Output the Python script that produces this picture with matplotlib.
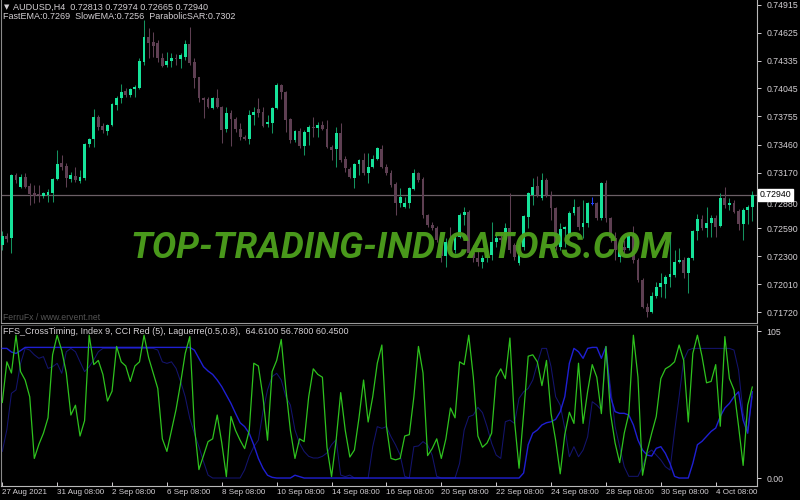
import matplotlib
matplotlib.use("Agg")
import matplotlib.pyplot as plt
import numpy as np

plt.rcParams['font.family'] = ['Liberation Sans', 'DejaVu Sans']

# ---------------- data ----------------
opens = [0.7242,0.7251,0.7249,0.7315,0.7302,0.7312,0.7303,0.7296,0.7295,0.7293,
         0.7294,0.7296,0.7310,0.7327,0.7324,0.7310,0.7313,0.7308,0.7311,0.7347,
         0.7352,0.7375,0.7365,0.7360,0.7366,0.7387,0.7395,0.7402,0.7398,0.7404,
         0.7405,0.7432,0.7458,0.7453,0.7452,0.7436,0.7429,0.7433,0.7436,0.7435,
         0.7437,0.7451,0.7432,0.7416,0.7395,0.7393,0.7384,0.7395,0.7385,0.7362,
         0.7379,0.7373,0.7362,0.7354,0.7352,0.7377,0.7383,0.7380,0.7368,0.7369,
         0.7384,0.7408,0.7401,0.7373,0.7351,0.7360,0.7345,0.7359,0.7364,0.7363,
         0.7366,0.7362,0.7344,0.7342,0.7358,0.7331,0.7321,0.7311,0.7326,0.7330,
         0.7317,0.7323,0.7331,0.7342,0.7323,0.7317,0.7305,0.7285,0.7281,0.7285,
         0.7300,0.7317,0.7310,0.7273,0.7263,0.7259,0.7247,0.7230,0.7245,0.7237,
         0.7250,0.7273,0.7276,0.7233,0.7228,0.7224,0.7228,0.7231,0.7245,0.7249,
         0.7247,0.7259,0.7242,0.7223,0.7240,0.7271,0.7294,0.7303,0.7291,0.7309,
         0.7294,0.7280,0.7240,0.7258,0.7251,0.7275,0.7281,0.7260,0.7265,0.7284,
         0.7285,0.7270,0.7306,0.7270,0.7249,0.7229,0.7240,0.7239,0.7252,0.7226,
         0.7205,0.7177,0.7172,0.7189,0.7198,0.7201,0.7208,0.7211,0.7224,0.7226,
         0.7213,0.7228,0.7256,0.7269,0.7259,0.7265,0.7270,0.7261,0.7291,0.7283,
         0.7285,0.7277,0.7264,0.7278,0.72813]
highs = [0.7256,0.7254,0.7316,0.7317,0.7316,0.7317,0.7306,0.7304,0.7304,0.7297,
         0.7300,0.7311,0.7340,0.7335,0.7327,0.7318,0.7323,0.7320,0.7348,0.7353,
         0.7383,0.7377,0.7369,0.7368,0.7389,0.7397,0.7409,0.7405,0.7405,0.7408,
         0.7436,0.7476,0.7467,0.7463,0.7455,0.7441,0.7442,0.7441,0.7440,0.7441,
         0.7455,0.7468,0.7436,0.7416,0.7396,0.7396,0.7396,0.7404,0.7386,0.7385,
         0.7382,0.7375,0.7369,0.7356,0.7382,0.7385,0.7395,0.7385,0.7377,0.7385,
         0.7410,0.7409,0.7402,0.7374,0.7361,0.7363,0.7361,0.7366,0.7375,0.7370,
         0.7371,0.7372,0.7346,0.7364,0.7369,0.7334,0.7323,0.7327,0.7331,0.7337,
         0.7337,0.7335,0.7344,0.7346,0.7326,0.7320,0.7307,0.7301,0.7292,0.7302,
         0.7321,0.7318,0.7312,0.7274,0.7266,0.7261,0.7249,0.7249,0.7260,0.7252,
         0.7275,0.7281,0.7278,0.7242,0.7237,0.7231,0.7237,0.7266,0.7255,0.7253,
         0.7265,0.7296,0.7244,0.7244,0.7273,0.7297,0.7311,0.7313,0.7317,0.7311,
         0.7298,0.7281,0.7265,0.7262,0.7277,0.7290,0.7282,0.7289,0.7286,0.7292,
         0.7286,0.7307,0.7309,0.7271,0.7255,0.7240,0.7247,0.7254,0.7262,0.7228,
         0.7207,0.7181,0.7193,0.7203,0.7213,0.7211,0.7255,0.7237,0.7239,0.7229,
         0.7229,0.7257,0.7274,0.7273,0.7281,0.7273,0.7273,0.7296,0.7302,0.7291,
         0.7289,0.7279,0.7280,0.7283,0.72974]
lows = [0.7237,0.7245,0.7233,0.7306,0.7301,0.7301,0.7283,0.7285,0.7286,0.7291,
        0.7286,0.7286,0.7309,0.7320,0.7302,0.7307,0.7307,0.7306,0.7309,0.7344,
        0.7344,0.7361,0.7358,0.7356,0.7365,0.7382,0.7389,0.7396,0.7396,0.7396,
        0.7404,0.7429,0.7436,0.7437,0.7432,0.7427,0.7427,0.7427,0.7429,0.7426,
        0.7434,0.7429,0.7405,0.7390,0.7374,0.7384,0.7383,0.7384,0.7348,0.7359,
        0.7345,0.7359,0.7351,0.7351,0.7347,0.7366,0.7375,0.7364,0.7364,0.7358,
        0.7383,0.7393,0.7359,0.7348,0.7349,0.7343,0.7335,0.7346,0.7354,0.7354,
        0.7361,0.7343,0.7330,0.7323,0.7328,0.7318,0.7311,0.7301,0.7315,0.7315,
        0.7306,0.7322,0.7330,0.7322,0.7315,0.7302,0.7273,0.7281,0.7280,0.7280,
        0.7299,0.7307,0.7270,0.7260,0.7257,0.7245,0.7224,0.7219,0.7238,0.7233,
        0.7249,0.7263,0.7231,0.7224,0.7220,0.7218,0.7224,0.7226,0.7240,0.7243,
        0.7245,0.7233,0.7226,0.7221,0.7237,0.7259,0.7283,0.7292,0.7289,0.7292,
        0.7268,0.7237,0.7237,0.7240,0.7249,0.7273,0.7257,0.7249,0.7260,0.7283,
        0.7268,0.7268,0.7266,0.7245,0.7226,0.7224,0.7233,0.7237,0.7223,0.7203,
        0.7176,0.7167,0.7171,0.7187,0.7188,0.7187,0.7198,0.7208,0.7223,0.7207,
        0.7192,0.7226,0.7247,0.7257,0.7250,0.7250,0.7250,0.7260,0.7280,0.7278,
        0.7275,0.7257,0.7247,0.7264,0.72665]
closes = [0.7251,0.7248,0.7315,0.7309,0.7312,0.7302,0.7295,0.7293,0.7294,0.7296,
          0.7297,0.7310,0.7326,0.7323,0.7311,0.7315,0.7309,0.7312,0.7347,0.7352,
          0.7375,0.7364,0.7361,0.7366,0.7388,0.7395,0.7401,0.7398,0.7404,0.7406,
          0.7433,0.7458,0.7452,0.7449,0.7436,0.7428,0.7433,0.7436,0.7435,0.7439,
          0.7451,0.7431,0.7415,0.7395,0.7392,0.7385,0.7395,0.7385,0.7361,0.7379,
          0.7373,0.7362,0.7354,0.7352,0.7377,0.7380,0.7379,0.7365,0.7370,0.7384,
          0.7408,0.7401,0.7372,0.7351,0.7360,0.7345,0.7359,0.7364,0.7363,0.7366,
          0.7362,0.7344,0.7340,0.7358,0.7330,0.7322,0.7312,0.7326,0.7330,0.7317,
          0.7323,0.7331,0.7343,0.7323,0.7317,0.7304,0.7285,0.7292,0.7285,0.7301,
          0.7317,0.7309,0.7273,0.7263,0.7259,0.7247,0.7230,0.7245,0.7240,0.7250,
          0.7273,0.7276,0.7233,0.7228,0.7224,0.7228,0.7231,0.7245,0.7249,0.7247,
          0.7259,0.7237,0.7229,0.7242,0.7272,0.7296,0.7302,0.7294,0.7309,0.7294,
          0.7280,0.7240,0.7258,0.7260,0.7275,0.7281,0.7260,0.7265,0.7285,0.7284,
          0.7270,0.7306,0.7270,0.7249,0.7237,0.7237,0.7237,0.7252,0.7226,0.7205,
          0.7177,0.7172,0.7189,0.7198,0.7202,0.7208,0.7212,0.7224,0.7226,0.7213,
          0.7228,0.7256,0.7269,0.7259,0.7265,0.7270,0.7260,0.7291,0.7283,0.7285,
          0.7276,0.7264,0.7278,0.7281,0.72940]

cci_line = [54,83,75,102,76,70,58,14,24,32,43,88,102,91,75,45,52,30,41,102,
            81,84,74,55,62,94,83,80,69,80,83,102,86,75,64,28,19,34,49,68,
            89,101,37,6,16,26,28,45,25,1,44,34,27,21,34,82,80,58,27,76,
            84,99,64,34,14,28,26,58,78,74,72,22,1,27,61,34,15,20,43,70,
            40,58,82,95,37,14,13,14,30,31,58,94,75,16,21,28,14,28,50,43,
            83,81,102,72,30,22,25,32,72,78,71,100,41,7,46,87,88,83,66,84,
            46,27,3,31,47,39,82,39,62,81,72,46,94,46,25,11,32,46,102,72,
            2,19,32,44,71,78,80,83,95,84,40,89,102,87,68,69,81,37,101,71,
            63,37,9,52,65]
laguerre_line = [92.6,92.6,90,89,91,93.3,93.3,93.3,93.3,93.3,
                 93.3,93.3,93.3,93.3,93.3,93.3,93.3,93.3,93.3,93.3,
                 93.3,93.3,93.3,93.3,93.3,93.3,93.3,93.3,93.3,93.3,
                 93.3,93.3,93.3,93.3,93.3,93.3,93.3,93.3,93.3,93.3,
                 93.3,93.3,91.4,85.5,79.5,76.4,74,70,65.2,59.3,
                 53.3,46.2,39.5,36.7,31.9,23.6,14,7,2,0.5,
                 0,0,0,0,2,1,0,0,0,0,
                 0,0,0,0,0,0,0,0,0,0,
                 0,0,0,0,0,0,0,0,0,0,
                 0,0,0,0,0,0,0,0,0,0,
                 0,0,0,0,0,0,0,0,0,0,
                 0,0,0,0,3.6,23.8,32,34.3,37.9,39.5,
                 40.2,41.9,47.4,58.1,81.9,92.6,90.2,85.5,92.6,93.3,
                 93.3,85.5,93.8,58.1,47.4,46.2,46.2,45,37.9,27.1,
                 20,16.4,15.7,21.2,22.4,17.6,10.5,1.2,0,0,
                 0,10.5,23.8,26.2,29.8,33.3,35.7,44,50,53.3,
                 58.1,61.6,41.4,32,61.6]
signal_line = [19,34.5,60.5,62.9,81.9,92.6,91.4,88,85.5,86.7,
               78.3,79.5,81.9,74.8,90.2,92.6,90.2,83,76,79.5,
               84.3,90.2,92.6,92.6,92.6,92.6,92.6,92.6,92.6,92.6,
               92.6,92.6,92.6,92.6,91.4,83,81.9,83,78.3,68.8,
               58.1,42.6,31.9,22.4,11.7,2.1,0,0,0,0,
               0,0,0,5.9,15.5,22.4,27.1,47.4,62.9,72.4,
               74.8,70,58.1,52.1,34.3,24.8,19,15.5,14.3,14.3,
               15.5,17.9,23.8,27.4,2.1,1,2.1,0,0,0,
               0,22.4,36.7,35.5,36.7,29.5,23.6,16.4,1.2,0,
               22.4,22.9,26,23.6,16.4,1.2,0,0,0,0,
               10.5,34.3,43.8,45,50.5,46.7,36.7,24.8,16.4,14,
               40.2,41.4,39,56.9,61.6,64,70,81.9,92.6,92.6,
               79.5,58.1,52.1,35.5,15.2,22.4,15.2,20,29.5,54.5,
               52.1,48.6,90.2,65.2,36.7,22.4,8.1,1.2,1.2,1.2,
               8.1,17.6,20,16.4,12.9,8.1,5.7,33.1,58.1,84.3,
               91.4,92.6,92.6,92.6,92.6,92.6,92.6,92.6,92.6,92.6,
               91.4,77.1,46.2,34.3,58.1]

date_labels = ["27 Aug 2021", "31 Aug 08:00", "2 Sep 08:00", "6 Sep 08:00", "8 Sep 08:00",
               "10 Sep 08:00", "14 Sep 08:00", "16 Sep 08:00", "20 Sep 08:00", "22 Sep 08:00",
               "24 Sep 08:00", "28 Sep 08:00", "30 Sep 08:00", "4 Oct 08:00"]
date_bar_index = [0, 12, 24, 36, 48, 60, 72, 84, 96, 108, 120, 132, 144, 156]
price_ticks = [0.74915, 0.74625, 0.74335, 0.74045, 0.73755, 0.73460,
               0.73170, 0.72880, 0.72590, 0.72300, 0.72010, 0.71720]
last_price = 0.72940

# ---------------- figure ----------------
W, H = 800, 500
fig = plt.figure(figsize=(8, 5), dpi=100, facecolor='black')

def px_rect(x0, y0, x1, y1):
    return [x0 / W, 1 - y1 / H, (x1 - x0) / W, (y1 - y0) / H]

ax = fig.add_axes(px_rect(1, 0, 757, 322), facecolor='black')
ax2 = fig.add_axes(px_rect(1, 325, 757, 486), facecolor='black', sharex=ax)

txt_col = '#d4d0d4'
bull_body = '#16e39a'
bull_wick = '#14925f'
bear_col = '#5e3f52'

n = len(closes)
idx = np.arange(n)
for i in range(n):
    o, h, l, c = opens[i], highs[i], lows[i], closes[i]
    if c > o:
        bc, wc = bull_body, bull_wick
    elif c < o:
        bc, wc = bear_col, bear_col
    else:
        bc, wc = '#2040ff', '#2040ff'
    ax.vlines(i, l, h, color=wc, lw=0.75, zorder=2)
    body = max(abs(c - o), 0.00009)
    ax.bar(i, body, bottom=min(o, c), width=0.62, color=bc, lw=0, zorder=3)

ax.axhline(last_price, color='#6b5f66', lw=0.9, zorder=1)

ax.set_xlim(-0.28, 165.03)
ax.set_ylim(0.71617, 0.74964)
for s in ['top', 'bottom']:
    ax.spines[s].set_visible(False)
ax.spines['left'].set_color('#8a8a8a')
ax.spines['right'].set_color('#b8b8b8')
ax.spines['left'].set_linewidth(0.8)
ax.spines['right'].set_linewidth(0.8)
ax.yaxis.tick_right()
ax.set_yticks(price_ticks)
ax.set_yticklabels([f"{p:.5f}" for p in price_ticks])
ax.tick_params(axis='y', colors=txt_col, labelsize=6.3, length=3, width=0.7, pad=4)
ax.tick_params(axis='x', bottom=False, labelbottom=False)
# nudge the label hidden behind the current-price box slightly down, as in the terminal
for lab, p in zip(ax.get_yticklabels(), price_ticks):
    if abs(p - 0.72880) < 1e-6:
        lab.set_va('top')

ax.annotate(f"{last_price:.5f}", xy=(1.0, last_price), xycoords=('axes fraction', 'data'),
            xytext=(2, 0), textcoords='offset points', va='center', ha='left',
            fontsize=6.3, color='black', zorder=20,
            bbox=dict(boxstyle='square,pad=0.15', fc='white', ec='white'), annotation_clip=False)

# separator lines between panels
fig.add_artist(plt.Line2D([1 / W, 757 / W], [1 - 322.5 / H, 1 - 322.5 / H], color='#9a9a9a', lw=0.8))
fig.add_artist(plt.Line2D([1 / W, 757 / W], [1 - 325 / H, 1 - 325 / H], color='#5a5a5a', lw=0.6))

# lower panel
ax2.plot(idx, signal_line, color='#14146e', lw=0.75, zorder=2)
ax2.plot(idx, laguerre_line, color='#1f1fd2', lw=1.0, zorder=3)
ax2.plot(idx, cci_line, color='#2ec21e', lw=0.9, zorder=4)
ax2.set_ylim(-5.7, 109.3)
ax2.spines['top'].set_visible(False)
ax2.spines['left'].set_color('#8a8a8a')
ax2.spines['right'].set_color('#b8b8b8')
ax2.spines['bottom'].set_color('#b8b8b8')
for s in ['left', 'right', 'bottom']:
    ax2.spines[s].set_linewidth(0.8)
ax2.yaxis.tick_right()
ax2.set_yticks([105, 0])
ax2.set_yticklabels(["105", "0.00"])
ax2.tick_params(axis='y', colors=txt_col, labelsize=6.3, length=3, width=0.7, pad=4)
ax2.set_xticks(date_bar_index)
ax2.set_xticklabels(date_labels, ha='left')
ax2.tick_params(axis='x', colors=txt_col, labelsize=5.8, length=3, width=0.7,
                direction='in', pad=2)
ax2.set_xlim(-0.28, 165.03)

# texts
def ftext(x, y, s, **kw):
    fig.text(x / W, 1 - y / H, s, va='center', ha='left', **kw)

ftext(4, 7, "\u25BC", color=txt_col, fontsize=5, family=['DejaVu Sans'])
ftext(13, 7, "AUDUSD,H4  0.72813 0.72974 0.72665 0.72940", color=txt_col, fontsize=6.5)
ftext(3, 16.5, "FastEMA:0.7269  SlowEMA:0.7256  ParabolicSAR:0.7302", color=txt_col, fontsize=6.5)
ftext(3, 317, "FerruFx / www.ervent.net", color='#555555', fontsize=6.2)
ftext(3, 331, "FFS_CrossTiming, Index 9, CCI Red (5), Laguerre(0.5,0.8),  64.6100 56.7800 60.4500",
      color=txt_col, fontsize=6.5)

wm = fig.text(401 / W, 1 - 248 / H, "TOP-TRADING-INDICATORS.COM", ha='center', va='center',
              color='#4c9e1c', fontsize=26, fontweight='bold', fontstyle='italic',
              family=['Roboto', 'DejaVu Sans'], alpha=0.97, zorder=10)
fig.canvas.draw()
bb = wm.get_window_extent()
if bb.width > 0:
    wm.set_fontsize(26 * 542.0 / bb.width)

fig.savefig("out.png", dpi=100, facecolor='black')
